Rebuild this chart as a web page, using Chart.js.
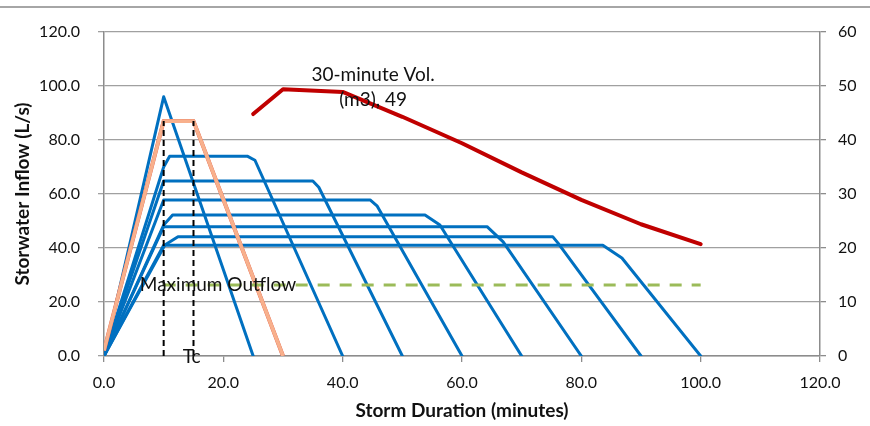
<!DOCTYPE html>
<html>
<head>
<meta charset="utf-8">
<script src="https://cdn.jsdelivr.net/npm/chart.js@4.4.1/dist/chart.umd.min.js"></script>
<style>
  body { margin: 0; background: #fff; }
</style>
</head>
<body>
<canvas id="myChart" width="870" height="426"></canvas>
<script>
// inflow hydrographs: time (minutes) and flow (L/s), one pair per storm duration
var h10_t = [0, 10, 25];
var h10_q = [0, 96, 0];
var h15_t = [0, 10, 15, 30];
var h15_q = [2, 87, 87, 0];
var h25_t = [0, 10, 11, 24, 25.3, 40];
var h25_q = [0, 70, 74, 74, 72.5, 0];
var h35_t = [0, 10, 35, 36, 50];
var h35_q = [0, 64.8, 64.8, 62.5, 0];
var h45_t = [0, 10, 44.6, 45.8, 60];
var h45_q = [0, 57.8, 57.8, 55.5, 0];
var h55_t = [0, 10, 11.5, 53.8, 56.3, 70];
var h55_q = [0, 48.5, 52.2, 52.2, 48.5, 0];
var h65_t = [0, 10, 64.2, 66.9, 80];
var h65_q = [0, 47.9, 47.9, 42.3, 0];
var h75_t = [0, 10.2, 12.4, 75.2, 76.1, 90];
var h75_q = [0, 41.1, 44.2, 44.2, 41.8, 0];
var h85_t = [0, 10, 83.6, 86.8, 100];
var h85_q = [0, 41, 41, 36.3, 0];

// maximum outflow (L/s)
var outflow_t = [10, 100];
var outflow_q = [26.3, 26.3];

// Tc markers
var tc_t = [10, 15];
var tc_top = 87;

// 30-minute volume (m3), right axis
var vol_t = [25, 30, 40, 50, 60, 70, 80, 90, 100];
var vol_m3 = [44.8, 49.4, 48.9, 44.3, 39.4, 34.0, 28.9, 24.4, 20.7];

function pts(t, q) {
  return t.map(function(v, i){ return {x: v, y: q[i]}; });
}

var BLUE = '#0070C0';
var FONT = 'Lato, "Noto Sans", sans-serif';

var blues = [[h10_t, h10_q], [h25_t, h25_q], [h35_t, h35_q], [h45_t, h45_q],
             [h55_t, h55_q], [h65_t, h65_q], [h75_t, h75_q], [h85_t, h85_q]];

var datasets = [];
datasets.push({
  label: '30-minute Vol. (m3)', data: pts(vol_t, vol_m3), yAxisID: 'y2',
  borderColor: '#C00000', borderWidth: 4, borderCapStyle: 'round', borderJoinStyle: 'round'
});
datasets.push({
  label: 'Maximum Outflow', data: pts(outflow_t, outflow_q),
  borderColor: '#9BBB59', borderWidth: 3, borderDash: [12, 10]
});
tc_t.forEach(function(t){
  datasets.push({
    label: 'Tc', data: [{x: t, y: 0}, {x: t, y: tc_top}],
    borderColor: '#000', borderWidth: 2, borderDash: [6, 4]
  });
});
datasets.push({
  label: '15 min', data: pts(h15_t, h15_q),
  borderColor: '#F8B08C', borderWidth: 3.6, borderJoinStyle: 'round'
});
datasets.push({
  label: '15 min edge', data: pts(h15_t, h15_q),
  borderColor: '#E0604A', borderWidth: 4, borderJoinStyle: 'round'
});
blues.forEach(function(h, i){
  datasets.push({
    label: 'storm ' + i, data: pts(h[0], h[1]),
    borderColor: BLUE, borderWidth: 3, borderJoinStyle: 'round', borderCapStyle: 'round'
  });
});

var textLabels = {
  id: 'textLabels',
  afterDatasetsDraw: function(chart) {
    var ctx = chart.ctx, x = chart.scales.x, y = chart.scales.y, y2 = chart.scales.y2;
    ctx.save();
    ctx.fillStyle = '#111';
    ctx.textAlign = 'center';
    ctx.textBaseline = 'middle';
    ctx.font = '19px ' + FONT;
    ctx.fillText('Maximum Outflow', x.getPixelForValue(19.1), y.getPixelForValue(26.3));
    ctx.fillText('Tc', x.getPixelForValue(14.7), y.getPixelForValue(-0.4));
    ctx.fillText('30-minute Vol.', x.getPixelForValue(45.1), y2.getPixelForValue(52));
    ctx.fillText('(m3), 49', x.getPixelForValue(45.1), y2.getPixelForValue(47.4));
    ctx.restore();
  },
  afterDraw: function(chart) {
    var ctx = chart.ctx;
    ctx.save();
    ctx.strokeStyle = '#a6a6a6';
    ctx.lineWidth = 2;
    ctx.beginPath();
    ctx.moveTo(0, 7);
    ctx.lineTo(chart.width, 7);
    ctx.stroke();
    ctx.restore();
  }
};

var ctx = document.getElementById('myChart').getContext('2d');
var chart = new Chart(ctx, {
  type: 'line',
  data: { datasets: datasets },
  plugins: [textLabels],
  options: {
    responsive: false,
    animation: false,
    layout: { padding: { top: 32, left: 0, right: 0, bottom: 0 } },
    elements: { point: { radius: 0 }, line: { tension: 0 } },
    plugins: { legend: { display: false }, tooltip: { enabled: false } },
    scales: {
      x: {
        type: 'linear', min: 0, max: 120,
        afterFit: function(s){ s.height = 70; },
        ticks: { stepSize: 20, padding: 11, color: '#111', font: { family: FONT, size: 16 },
                 callback: function(v){ return v.toFixed(1); } },
        grid: { drawOnChartArea: false, tickLength: 6, color: '#8c8c8c', lineWidth: 1.3 },
        border: { color: '#8c8c8c', width: 1.5 },
        title: { display: true, text: 'Storm Duration (minutes)', color: '#111',
                 font: { family: FONT, size: 19, weight: 'bold' }, padding: { top: 0, bottom: 4 } }
      },
      y: {
        position: 'left', min: 0, max: 120,
        afterFit: function(s){ s.width = 104; },
        ticks: { stepSize: 20, padding: 18, color: '#111', font: { family: FONT, size: 16 },
                 callback: function(v){ return v.toFixed(1); } },
        grid: { tickLength: 6, color: '#a0a0a0', lineWidth: 1.3 },
        border: { color: '#8c8c8c', width: 1.5 },
        title: { display: true, text: 'Storwater Inflow (L/s)', color: '#111',
                 font: { family: FONT, size: 19, weight: 'bold' }, padding: { top: 11, bottom: 0 } }
      },
      y2: {
        position: 'right', min: 0, max: 60,
        afterFit: function(s){ s.width = 50; },
        ticks: { stepSize: 10, padding: 12, color: '#111', font: { family: FONT, size: 16 } },
        grid: { drawOnChartArea: false, tickLength: 6, color: '#8c8c8c', lineWidth: 1.3 },
        border: { color: '#8c8c8c', width: 1.5 }
      }
    }
  }
});
</script>
</body>
</html>
